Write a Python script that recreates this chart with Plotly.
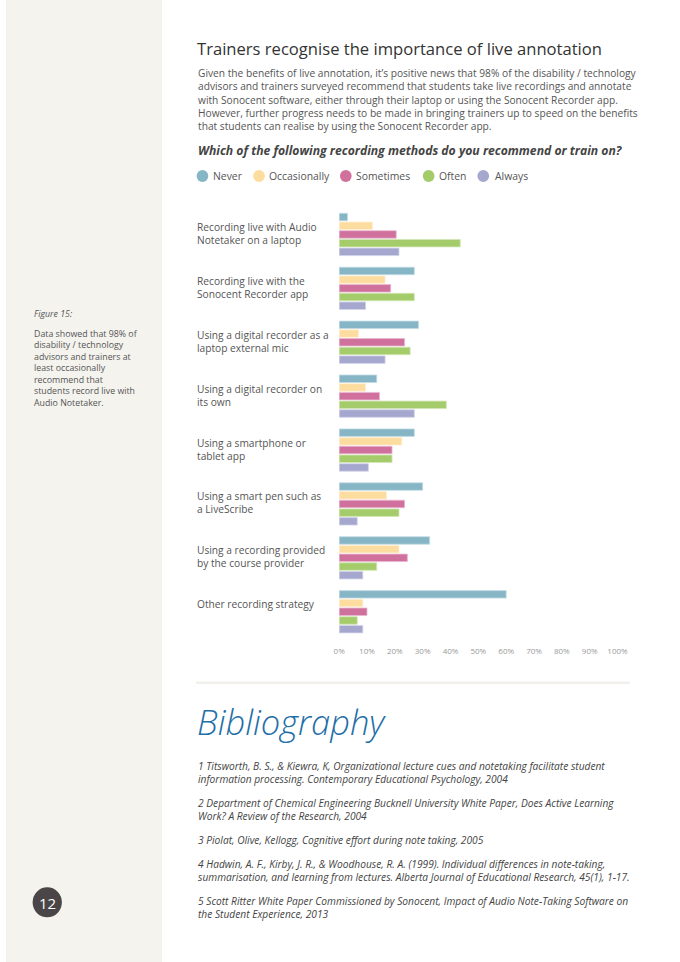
import plotly.graph_objects as go

W, H = 680, 962

# ---------------- data ----------------
categories = [
    "Recording live with Audio<br>Notetaker on a laptop",
    "Recording live with the<br>Sonocent Recorder app",
    "Using a digital recorder as a<br>laptop external mic",
    "Using a digital recorder on<br>its own",
    "Using a smartphone or<br>tablet app",
    "Using a smart pen such as<br>a LiveScribe",
    "Using a recording provided<br>by the course provider",
    "Other recording strategy",
]
series_names = ["Never", "Occasionally", "Sometimes", "Often", "Always"]
never = [3, 27, 28.5, 13.5, 27, 30, 32.5, 60]
occasionally = [12, 16.5, 7, 9.5, 22.5, 17, 21.5, 8.5]
sometimes = [20.5, 18.5, 23.5, 14.5, 19, 23.5, 24.5, 10]
often = [43.5, 27, 25.5, 38.5, 19, 21.5, 13.5, 6.5]
always = [21.5, 9.5, 16.5, 27, 10.5, 6.5, 8.5, 8.5]
tick_values = [0, 10, 20, 30, 40, 50, 60, 70, 80, 90, 100]
tick_labels = ["0%", "10%", "20%", "30%", "40%", "50%", "60%", "70%", "80%", "90%", "100%"]

colors = ["#86b6c6", "#fddc9f", "#cf709d", "#a5cc6b", "#a5a7ce"]
edge_colors = ["#c3dce4", "#fff0d4", "#eab8cf", "#d3e6b6", "#d3d4ea"]

title = "Trainers recognise the importance of live annotation"
body_lines = [
    "Given the benefits of live annotation, it\u2019s positive news that 98% of the disability / technology",
    "advisors and trainers surveyed recommend that students take live recordings and annotate",
    "with Sonocent software, either through their laptop or using the Sonocent Recorder app.",
    "However, further progress needs to be made in bringing trainers up to speed on the benefits",
    "that students can realise by using the Sonocent Recorder app.",
]
question = "Which of the following recording methods do you recommend or train on?"
side_caption = "Figure 15:"
side_lines = [
    "Data showed that 98% of",
    "disability / technology",
    "advisors and trainers at",
    "least occasionally",
    "recommend that",
    "students record live with",
    "Audio Notetaker.",
]
bib_title = "Bibliography"
bib_entries = [
    ["1 Titsworth, B. S., & Kiewra, K, Organizational lecture cues and notetaking facilitate student",
     "information processing. Contemporary Educational Psychology, 2004"],
    ["2 Department of Chemical Engineering Bucknell University White Paper, Does Active Learning",
     "Work? A Review of the Research, 2004"],
    ["3 Piolat, Olive, Kellogg, Cognitive effort during note taking, 2005"],
    ["4 Hadwin, A. F., Kirby, J. R., & Woodhouse, R. A. (1999). Individual differences in note-taking,",
     "summarisation, and learning from lectures. Alberta Journal of Educational Research, 45(1), 1-17."],
    ["5 Scott Ritter White Paper Commissioned by Sonocent, Impact of Audio Note-Taking Software on",
     "the Student Experience, 2013"],
]
bib_centers = [772, 809.4, 840, 870.6, 907.4]
page_number = "12"

FONT = "Open Sans"


def X(px):
    return px / W


def Y(py):
    return 1 - py / H


fig = go.Figure()
for name, vals, c, ec in zip(series_names, [never, occasionally, sometimes, often, always], colors, edge_colors):
    fig.add_trace(go.Bar(
        name=name, y=categories, x=vals, orientation="h",
        marker=dict(color=c, line=dict(color=ec, width=0.8)),
        showlegend=False, hoverinfo="x+name",
    ))

ann = []


def txt(x, y, text, size, color, italic=False, bold=False, weight=None, xanchor="left"):
    f = dict(family=FONT, size=size, color=color)
    if italic:
        f["style"] = "italic"
    if bold:
        f["weight"] = 700
    if weight:
        f["weight"] = weight
    ann.append(dict(x=X(x), y=Y(y), xref="paper", yref="paper", text=text, showarrow=False,
                    xanchor=xanchor, yanchor="middle", font=f, align="left"))


txt(194, 48, title, 16.6, "#333333")
txt(194.5, 99.9, "<br>".join(body_lines), 10.2, "#555555")
txt(195, 150, question, 12.2, "#444444", italic=True, bold=True)

legend_circle_x = [201.5, 259.5, 348.5, 433.5, 489.5]
legend_text_x = [210, 268, 357, 442.5, 499.5]
shapes = []
shapes.append(dict(type="rect", xref="paper", yref="paper", x0=0, x1=X(160), y0=0, y1=1,
                   fillcolor="#f4f3ee", line=dict(width=0), layer="below"))
for cx, tx, name, c in zip(legend_circle_x, legend_text_x, series_names, colors):
    shapes.append(dict(type="circle", xref="paper", yref="paper",
                       x0=X(cx - 6), x1=X(cx + 6), y0=Y(176 + 6), y1=Y(176 - 6),
                       fillcolor=c, line=dict(width=0)))
    txt(tx, 176, name, 10.4, "#555555")

# category labels (top-aligned to each group)
for cat in categories:
    ann.append(dict(x=X(194), y=cat, xref="paper", yref="y", text=cat, showarrow=False,
                    xanchor="left", yanchor="top", yshift=16.5, align="left",
                    font=dict(family=FONT, size=10.2, color="#555555")))

# sidebar
txt(26.5, 314, side_caption, 8.8, "#555555", italic=True)
txt(26.5, 368.7, "<br>".join(side_lines), 8.8, "#555555")

# separator
shapes.append(dict(type="rect", xref="paper", yref="paper", x0=X(195), x1=X(640), y0=Y(684), y1=Y(681.5),
                   fillcolor="#f1f0eb", line=dict(width=0)))

txt(194, 721, bib_title, 34.5, "#1f6fa7", italic=True, weight=300)
for entry, yy in zip(bib_entries, bib_centers):
    txt(194.5, yy, "<br>".join(entry), 10.2, "#444444", italic=True)

# page number
shapes.append(dict(type="circle", xref="paper", yref="paper",
                   x0=X(42.3 - 15), x1=X(42.3 + 15), y0=Y(902.3 + 15), y1=Y(902.3 - 15),
                   fillcolor="#4a4546", line=dict(width=0)))
txt(42.3, 902.5, page_number, 15, "#ffffff", xanchor="center")

x0px, x100px = 341.7, 627.2
top_px, bot_px = 207.5, 638.7

fig.update_layout(
    width=W, height=H, autosize=False,
    margin=dict(l=0, r=0, t=0, b=0),
    paper_bgcolor="white", plot_bgcolor="rgba(0,0,0,0)",
    barmode="group", bargap=0.193, bargroupgap=0.14,
    annotations=ann, shapes=shapes,
    xaxis=dict(domain=[X(x0px), X(x100px)], range=[0, 100], tickmode="array",
               tickvals=tick_values, ticktext=tick_labels,
               showgrid=False, zeroline=False, showline=False,
               ticks="outside", ticklen=5, tickcolor="rgba(0,0,0,0)",
               tickfont=dict(family=FONT, size=8, color="#9a9a9a"), fixedrange=True),
    yaxis=dict(domain=[Y(bot_px), Y(top_px)], autorange="reversed", showticklabels=False,
               showgrid=False, zeroline=False, showline=False, ticks="", fixedrange=True),
    font=dict(family=FONT),
)

fig.write_html("out.html")
